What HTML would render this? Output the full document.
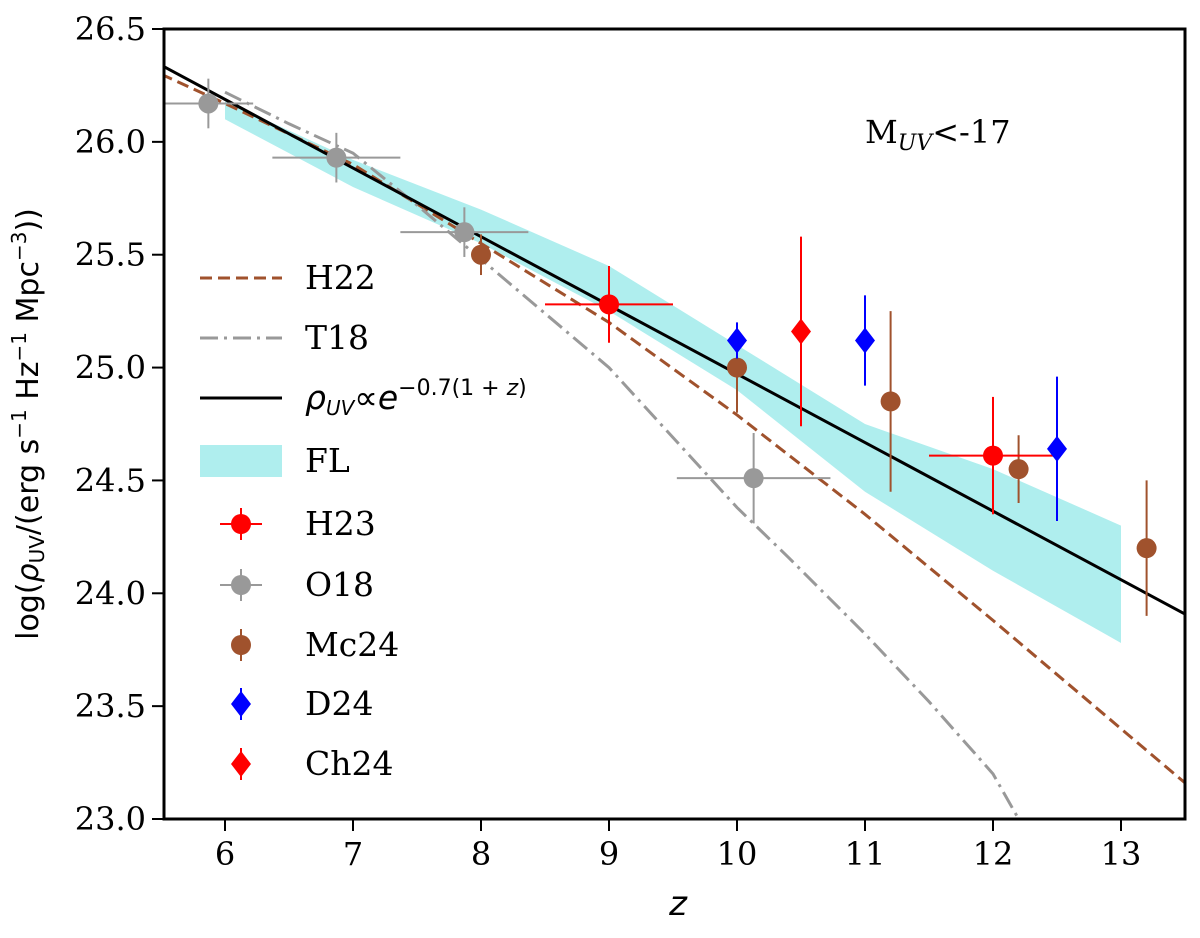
<!DOCTYPE html>
<html><head><meta charset="utf-8"><style>
body{margin:0;background:#fff}
svg text{font-family:"DejaVu Serif","Liberation Serif",serif;fill:#000}
</style></head><body>
<svg id="c" width="1200" height="933" viewBox="0 0 1200 933" xmlns="http://www.w3.org/2000/svg"></svg>
<script>
const xTicks=[6,7,8,9,10,11,12,13];
const yTicks=[23.0,23.5,24.0,24.5,25.0,25.5,26.0,26.5];
const flZ=[6,7,8,9,10,11,12,13];
const flUpper=[26.18,25.92,25.7,25.45,25.1,24.75,24.55,24.3];
const flLower=[26.1,25.8,25.55,25.25,24.9,24.45,24.1,23.78];
const h22Z=[5.5,6,7,8,9,10,11,12,13,13.5];
const h22Y=[26.3,26.17,25.9,25.55,25.2,24.79,24.35,23.88,23.4,23.16];
const t18Z=[6,6.5,7,7.5,8,9,10,10.4,11,11.5,12,12.2];
const t18Y=[26.22,26.08,25.95,25.72,25.48,25.0,24.38,24.16,23.82,23.52,23.2,23.0];
const fitZ=[5.5,13.5];
const o18Z=[5.87,6.87,7.87,10.13];const o18Y=[26.17,25.93,25.6,24.51];const o18Xe=[0.35,0.5,0.5,0.6];const o18Ye=[0.11,0.11,0.11,0.2];
const mcZ=[8,10,11.2,12.2,13.2];const mcY=[25.5,25.0,24.85,24.55,24.2];const mcYe=[0.09,0.2,0.4,0.15,0.3];
const h23Z=[9,12];const h23Y=[25.28,24.61];const h23Xe=[0.5,0.5];const h23Ye=[0.17,0.26];
const d24Z=[10,11,12.5];const d24Y=[25.12,25.12,24.64];const d24Ye=[0.08,0.2,0.32];
const ch24Z=[10.5];const ch24Y=[25.16];const ch24Ye=[0.42];
const L=164,R=1185,T=29,B=819;
const X=z=>225+(z-6)*128;
const Y=v=>B-(v-23)*(B-T)/3.5;
const fit=z=>26.34-0.304*(z-5.5);
const s=document.getElementById('c');const NS='http://www.w3.org/2000/svg';
function el(t,a,p){const e=document.createElementNS(NS,t);for(const k in a)e.setAttribute(k,a[k]);(p||s).appendChild(e);return e;}
const defs=el('defs',{});const cp=el('clipPath',{id:'cl'},defs);el('rect',{x:L,y:T,width:R-L,height:B-T},cp);
const g=el('g',{'clip-path':'url(#cl)'});
let pts=flZ.map((z,i)=>X(z)+','+Y(flUpper[i])).concat(flZ.slice().reverse().map((z,i)=>X(z)+','+Y(flLower[flZ.length-1-i])));
let e=el('polygon',{points:pts.join(' '),fill:'#afeeee'},g);

e=el('polyline',{points:h22Z.map((z,i)=>X(z)+','+Y(h22Y[i])).join(' '),fill:'none',stroke:'#a0522d','stroke-width':3,'stroke-dasharray':'12,6'},g);

e=el('polyline',{points:t18Z.map((z,i)=>X(z)+','+Y(t18Y[i])).join(' '),fill:'none',stroke:'#999','stroke-width':3,'stroke-dasharray':'18,6,3,6'},g);

e=el('polyline',{points:fitZ.map(z=>X(z)+','+Y(fit(z))).join(' '),fill:'none',stroke:'#000','stroke-width':3},g);

function pt(x,y,xe,ye,col,shape,name){
 const gg=el('g',{},g);
 
 if(xe)el('line',{x1:X(x-xe),x2:X(x+xe),y1:Y(y),y2:Y(y),stroke:col,'stroke-width':2},gg);
 el('line',{x1:X(x),x2:X(x),y1:Y(y-ye),y2:Y(y+ye),stroke:col,'stroke-width':2},gg);
 const cx=X(x),cy=Y(y);
 if(shape==='c')el('circle',{cx,cy,r:10,fill:col},gg);
 else el('polygon',{points:`${cx},${cy-13} ${cx+10},${cy} ${cx},${cy+13} ${cx-10},${cy}`,fill:col},gg);
}
o18Z.forEach((z,i)=>pt(z,o18Y[i],o18Xe[i],o18Ye[i],'#999','c','o18-point'));
mcZ.forEach((z,i)=>pt(z,mcY[i],0,mcYe[i],'#a0522d','c','mc24-point'));
h23Z.forEach((z,i)=>pt(z,h23Y[i],h23Xe[i],h23Ye[i],'#f00','c','h23-point'));
d24Z.forEach((z,i)=>pt(z,d24Y[i],0,d24Ye[i],'#00f','d','d24-point'));
ch24Z.forEach((z,i)=>pt(z,ch24Y[i],0,ch24Ye[i],'#f00','d','ch24-point'));
e=el('rect',{x:L,y:T,width:R-L,height:B-T,fill:'none',stroke:'#000','stroke-width':3});

xTicks.forEach(v=>{el('line',{x1:X(v),x2:X(v),y1:B,y2:B+12,stroke:'#000','stroke-width':2});
 const t=el('text',{x:X(v),y:B+46,'font-size':32,'text-anchor':'middle'});t.textContent=v;
 });
yTicks.forEach(v=>{el('line',{x1:L,x2:L-12,y1:Y(v),y2:Y(v),stroke:'#000','stroke-width':2});
 const t=el('text',{x:L-18,y:Y(v)+11,'font-size':32,'text-anchor':'end'});t.textContent=v.toFixed(1);
 });
</script>
<svg style="position:absolute;left:0;top:0" width="1200" height="933">
<text x="678" y="915" font-size="34" font-style="italic" text-anchor="middle" style="font-family:'DejaVu Sans',sans-serif">z</text>
<text transform="translate(38,424) rotate(-90)" font-size="30" text-anchor="middle" style="font-family:'DejaVu Sans',sans-serif">log(<tspan font-style="italic">ρ</tspan><tspan font-size="20" dy="6">UV</tspan><tspan dy="-6">/(erg s</tspan><tspan font-size="20" dy="-12">−1</tspan><tspan dy="12"> Hz</tspan><tspan font-size="20" dy="-12">−1</tspan><tspan dy="12"> Mpc</tspan><tspan font-size="20" dy="-12">−3</tspan><tspan dy="12">))</tspan></text>
<text x="865" y="143" font-size="32">M<tspan font-size="22" dy="7" font-style="italic">UV</tspan><tspan dy="-7">&lt;-17</tspan></text>
<g font-size="33">
<line x1="200" y1="278" x2="282" y2="278" stroke="#a0522d" stroke-width="3" stroke-dasharray="12,6"/><text x="305" y="289">H22</text>
<line x1="200" y1="338" x2="282" y2="338" stroke="#999" stroke-width="3" stroke-dasharray="18,6,3,6"/><text x="305" y="349">T18</text>
<line x1="200" y1="398" x2="282" y2="398" stroke="#000" stroke-width="3"/><text x="305" y="409" style="font-family:'DejaVu Sans',sans-serif"><tspan font-style="italic">ρ</tspan><tspan font-size="20" dy="6" font-style="italic">UV</tspan><tspan dy="-6">∝</tspan><tspan font-style="italic">e</tspan><tspan font-size="22" dy="-14">−0.7(1 + <tspan font-style="italic">z</tspan>)</tspan></text>
<rect x="200" y="445" width="82" height="32" fill="#afeeee"/><text x="305" y="472">FL</text>
<line x1="241" y1="508" x2="241" y2="540" stroke="#f00" stroke-width="2"/><line x1="220" y1="524" x2="262" y2="524" stroke="#f00" stroke-width="2"/><circle cx="241" cy="524" r="10" fill="#f00"/><text x="305" y="535">H23</text>
<line x1="241" y1="569" x2="241" y2="601" stroke="#999" stroke-width="2"/><line x1="220" y1="585" x2="262" y2="585" stroke="#999" stroke-width="2"/><circle cx="241" cy="585" r="10" fill="#999"/><text x="305" y="596">O18</text>
<line x1="241" y1="629" x2="241" y2="661" stroke="#a0522d" stroke-width="2"/><circle cx="241" cy="645" r="10" fill="#a0522d"/><text x="305" y="656">Mc24</text>
<line x1="241" y1="688" x2="241" y2="720" stroke="#00f" stroke-width="2"/><polygon points="241,691 251,704 241,717 231,704" fill="#00f"/><text x="305" y="715">D24</text>
<line x1="241" y1="748" x2="241" y2="780" stroke="#f00" stroke-width="2"/><polygon points="241,751 251,764 241,777 231,764" fill="#f00"/><text x="305" y="775">Ch24</text>
</g>
</svg>
</body></html>
